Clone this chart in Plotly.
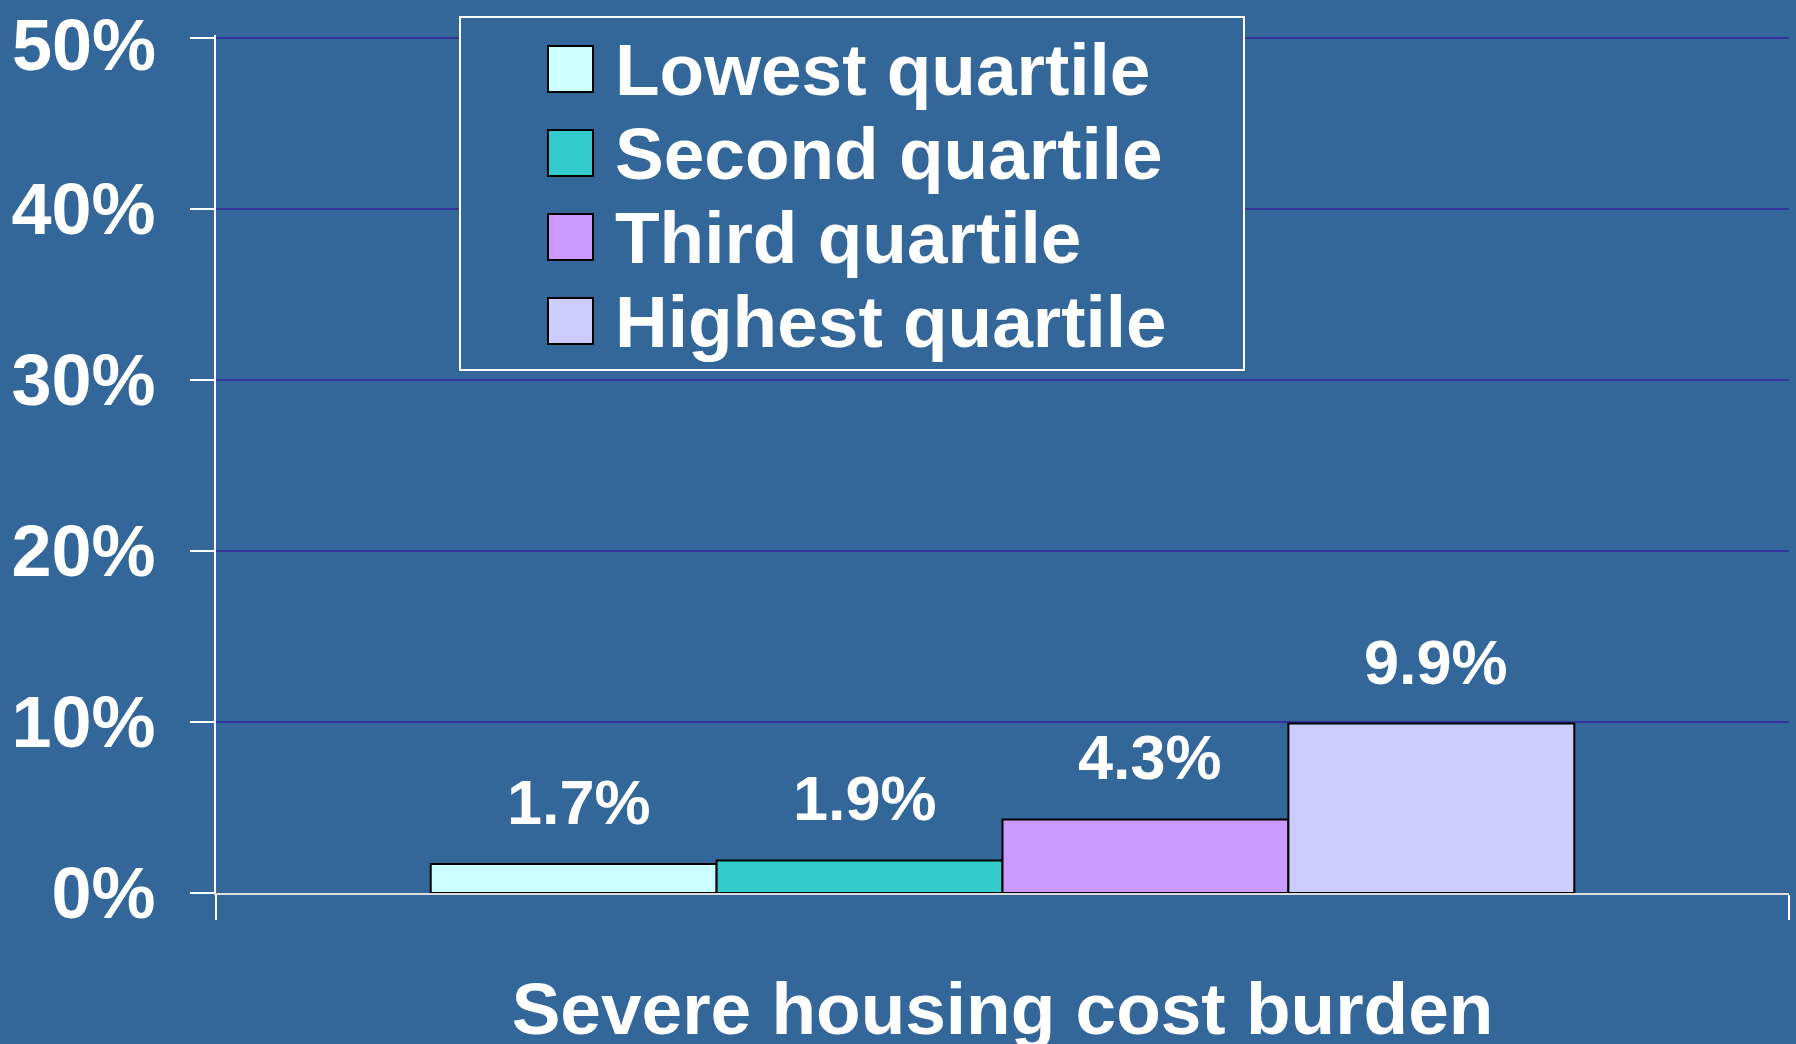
import plotly.graph_objects as go

# ---- data ----
categories = ["Severe housing cost burden"]
series_names = ["Lowest quartile", "Second quartile", "Third quartile", "Highest quartile"]
series_values = [1.7, 1.9, 4.3, 9.9]
series_colors = ["#CCFFFF", "#33CCCC", "#CC99FF", "#CCCCFF"]
y_tick_values = [0, 10, 20, 30, 40, 50]
y_tick_labels = ["0%", "10%", "20%", "30%", "40%", "50%"]

# ---- style ----
BG = "#336699"
GRID = "#333399"
FONT = "Liberation Sans, Arial, sans-serif"
BARGAP = 0.273
W, H = 1796, 1044
ML, MR, MT, MB = 216, 7, 35, 151
PW, PH = W - ML - MR, H - MT - MB
YTICKLEN, YSTANDOFF = 24, 20


def px_x(px):
    return (px - ML) / PW


def px_y(py):
    return (H - MB - py) / PH


fig = go.Figure()
for name, val, col in zip(series_names, series_values, series_colors):
    fig.add_trace(go.Bar(
        x=categories, y=[val], name=name,
        marker=dict(color=col, line=dict(color="black", width=2)),
        showlegend=False, hoverinfo="name+y",
    ))

# value labels above bars (positioned on the axis scale)
n = len(series_values)
for i, val in enumerate(series_values):
    xc = -0.5 + BARGAP / 2 + (1 - BARGAP) / n * (i + 0.5)
    fig.add_annotation(
        x=xc, y=val, xref="x", yref="y", text=f"{val:.1f}%",
        showarrow=False, yanchor="bottom", yshift=25, xshift=5,
        font=dict(family=FONT, size=63, color="white", weight="bold"),
    )

# top tick label is nudged down inside the page, as in the reference
tick_text = list(y_tick_labels[:-1]) + [""]
fig.add_annotation(
    x=0, y=y_tick_values[-1], xref="paper", yref="y", text=y_tick_labels[-1],
    showarrow=False, xanchor="right", yanchor="middle",
    xshift=-(YTICKLEN + YSTANDOFF + 14), yshift=-7,
    font=dict(family=FONT, size=72, color="white", weight="bold"),
)

# legend box (drawn manually to match the large swatches)
fig.add_shape(type="rect", xref="paper", yref="paper",
              x0=px_x(460), x1=px_x(1244), y0=px_y(370), y1=px_y(17),
              line=dict(color="white", width=2), fillcolor=BG, layer="above")
for i, (name, col) in enumerate(zip(series_names, series_colors)):
    cy = 69 + 84 * i
    fig.add_shape(type="rect", xref="paper", yref="paper",
                  x0=px_x(548), x1=px_x(593), y0=px_y(cy + 23), y1=px_y(cy - 23),
                  line=dict(color="black", width=2), fillcolor=col, layer="above")
    fig.add_annotation(x=px_x(613), y=px_y(cy), xref="paper", yref="paper",
                       text=name, showarrow=False, xanchor="left", yanchor="middle",
                       font=dict(family=FONT, size=73, color="white", weight="bold"))

fig.update_layout(
    width=W, height=H, autosize=False,
    paper_bgcolor=BG, plot_bgcolor=BG,
    margin=dict(l=ML, r=MR, t=MT, b=MB, pad=0, autoexpand=False),
    barmode="group", bargap=BARGAP, bargroupgap=0,
    font=dict(family=FONT, color="white"),
    showlegend=False,
)
fig.update_yaxes(
    range=[0, 50.15], tickvals=y_tick_values, ticktext=tick_text,
    showgrid=True, gridcolor=GRID, gridwidth=2, zeroline=False,
    showline=True, linecolor="white", linewidth=2,
    ticks="outside", ticklen=YTICKLEN, tickcolor="white", tickwidth=2,
    tickfont=dict(family=FONT, size=72, color="white", weight="bold"),
    ticklabelstandoff=YSTANDOFF, ticklabeloverflow="allow", automargin=False,
)
fig.update_xaxes(
    type="category", showgrid=False, zeroline=False,
    showline=True, linecolor="#DDDDDD", linewidth=2,
    ticks="outside", tickson="boundaries", ticklen=25, tickcolor="white", tickwidth=2,
    tickfont=dict(family=FONT, size=73, color="white", weight="bold"),
    ticklabelstandoff=51, ticklabeloverflow="allow", automargin=False,
)

fig.write_html(
    "out.html",
    config={"displayModeBar": False},
    post_script="document.body.style.margin='0';document.body.style.background='" + BG + "';",
)
